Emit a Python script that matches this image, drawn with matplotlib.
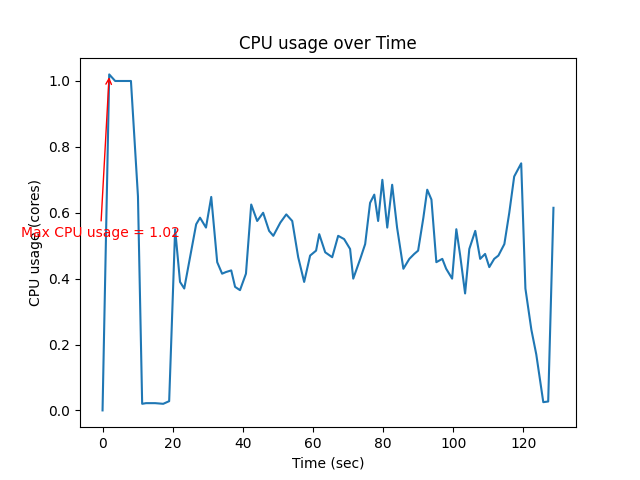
"""
CPU usage over time
"""
import matplotlib
matplotlib.use("Agg")
import matplotlib.pyplot as plt

# sample times (sec) and CPU usage (cores)
time_sec = [0.0, 1.9, 3.6, 5.6, 8.1, 10.1, 11.3, 12.4, 15.0, 17.3,
            19.0, 20.7, 22.1, 23.3, 26.7, 27.8, 29.5, 31.0, 32.7, 34.1,
            35.2, 36.7, 37.8, 39.2, 40.9, 42.4, 44.1, 45.8, 47.5, 48.7,
            50.7, 52.4, 54.1, 55.8, 57.5, 59.2, 60.9, 61.8, 63.5, 65.5,
            67.2, 68.9, 70.6, 71.5, 73.5, 74.9, 76.3, 77.5, 78.6, 79.8,
            81.2, 82.6, 84.0, 85.8, 87.5, 88.9, 90.0, 91.5, 92.6, 93.8,
            95.2, 96.9, 98.0, 99.7, 100.9, 102.0, 103.4, 104.6, 106.3, 107.7,
            109.1, 110.3, 111.7, 112.9, 114.6, 116.0, 117.4, 119.4, 120.6, 122.3,
            123.7, 125.7, 127.1, 128.6]
cpu_usage = [0.0, 1.02, 1.0, 1.0, 1.0, 0.65, 0.02, 0.022, 0.022, 0.02,
             0.028, 0.55, 0.39, 0.37, 0.565, 0.585, 0.555, 0.648, 0.45, 0.415,
             0.42, 0.425, 0.375, 0.365, 0.415, 0.625, 0.575, 0.6, 0.545, 0.53,
             0.57, 0.595, 0.575, 0.465, 0.39, 0.47, 0.485, 0.535, 0.48, 0.465,
             0.53, 0.52, 0.49, 0.40, 0.46, 0.505, 0.63, 0.655, 0.575, 0.70,
             0.555, 0.685, 0.555, 0.43, 0.46, 0.475, 0.485, 0.585, 0.67, 0.64,
             0.45, 0.46, 0.43, 0.40, 0.55, 0.47, 0.355, 0.49, 0.545, 0.46,
             0.475, 0.435, 0.46, 0.47, 0.505, 0.60, 0.71, 0.75, 0.37, 0.245,
             0.17, 0.025, 0.027, 0.615]

max_usage = max(cpu_usage)
max_time = time_sec[cpu_usage.index(max_usage)]

fig, ax = plt.subplots(figsize=(6.4, 4.8), dpi=100)
ax.plot(time_sec, cpu_usage)

ax.annotate(f'Max CPU usage = {max_usage:.2f}', xy=(max_time, max_usage),
            xytext=(-0.6, 0.525), ha='center', color='red',
            arrowprops=dict(arrowstyle='->', color='red'))

ax.set_title('CPU usage over Time')
ax.set_xlabel('Time (sec)')
ax.set_ylabel('CPU usage (cores)')

plt.savefig('out.png')
